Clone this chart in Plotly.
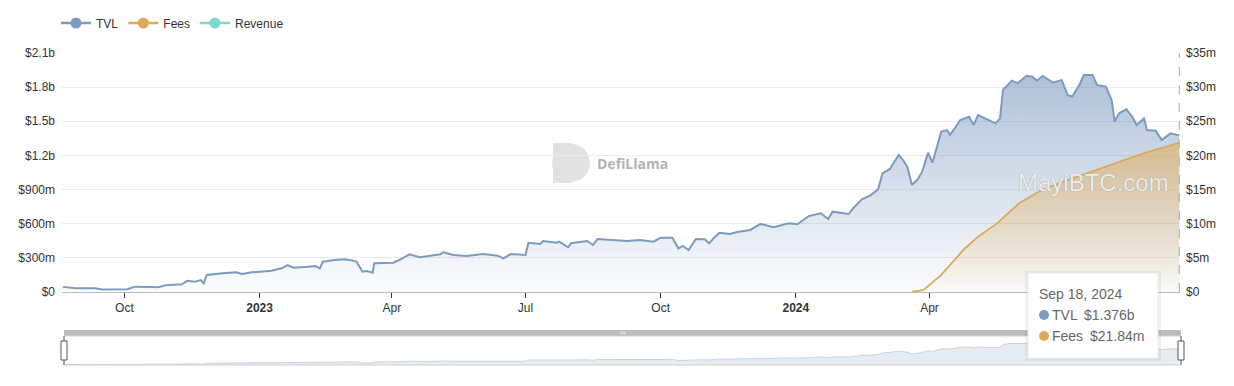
import plotly.graph_objects as go

# ---------------- data (values in millions of USD) ----------------
tvl_dates = [
    "2022-08-20", "2022-08-29", "2022-09-11", "2022-09-16", "2022-10-03", "2022-10-08",
    "2022-10-24", "2022-10-29", "2022-11-09", "2022-11-13", "2022-11-18", "2022-11-22",
    "2022-11-24", "2022-11-26", "2022-12-07", "2022-12-16", "2022-12-20", "2022-12-27",
    "2023-01-09", "2023-01-16", "2023-01-20", "2023-01-24", "2023-02-03", "2023-02-08",
    "2023-02-11", "2023-02-13", "2023-02-21", "2023-02-28", "2023-03-06", "2023-03-08",
    "2023-03-12", "2023-03-15", "2023-03-19", "2023-03-20", "2023-04-02", "2023-04-06",
    "2023-04-13", "2023-04-20", "2023-05-04", "2023-05-06", "2023-05-13", "2023-05-22",
    "2023-06-02", "2023-06-12", "2023-06-16", "2023-06-21", "2023-07-01", "2023-07-03",
    "2023-07-11", "2023-07-13", "2023-07-22", "2023-07-24", "2023-07-30", "2023-08-01",
    "2023-08-12", "2023-08-16", "2023-08-19", "2023-08-30", "2023-09-08", "2023-09-17",
    "2023-09-26", "2023-10-01", "2023-10-09", "2023-10-13", "2023-10-16", "2023-10-20",
    "2023-10-25", "2023-10-31", "2023-11-03", "2023-11-06", "2023-11-10", "2023-11-17",
    "2023-11-23", "2023-12-01", "2023-12-08", "2023-12-17", "2023-12-27", "2024-01-02",
    "2024-01-10", "2024-01-18", "2024-01-23", "2024-01-26", "2024-02-06", "2024-02-09",
    "2024-02-15", "2024-02-21", "2024-02-26", "2024-02-29", "2024-03-05", "2024-03-11",
    "2024-03-14", "2024-03-17", "2024-03-20", "2024-03-24", "2024-03-27", "2024-03-31",
    "2024-04-03", "2024-04-09", "2024-04-13", "2024-04-15", "2024-04-22", "2024-04-28",
    "2024-05-01", "2024-05-04", "2024-05-11", "2024-05-16", "2024-05-19", "2024-05-21",
    "2024-05-27", "2024-05-31", "2024-06-06", "2024-06-10", "2024-06-13", "2024-06-17",
    "2024-06-24", "2024-06-30", "2024-07-04", "2024-07-07", "2024-07-12", "2024-07-15",
    "2024-07-21", "2024-07-24", "2024-07-30", "2024-08-03", "2024-08-05", "2024-08-08",
    "2024-08-13", "2024-08-17", "2024-08-20", "2024-08-25", "2024-08-27", "2024-09-02",
    "2024-09-06", "2024-09-12", "2024-09-18",
]
tvl_values = [
    45, 32, 32, 22, 24, 47,
    41, 59, 68, 99, 90, 105,
    76, 149, 164, 173, 158, 173,
    187, 208, 237, 214, 222, 228,
    208, 266, 281, 287, 275, 266,
    178, 185, 170, 252, 257, 281,
    331, 305, 331, 349, 325, 316,
    334, 319, 296, 334, 325, 433,
    422, 448, 433, 442, 393, 428,
    448, 413, 466, 457, 448, 457,
    442, 477, 477, 384, 404, 369,
    466, 463, 428, 472, 521, 510,
    530, 545, 598, 569, 604, 595,
    668, 692, 641, 706, 685, 735,
    815, 852, 902, 1043, 1081, 1204,
    1160, 1096, 940, 990, 1057, 1224,
    1136, 1409, 1423, 1380, 1511, 1540,
    1467, 1555, 1511, 1482, 1526, 1775,
    1857, 1834, 1900, 1892, 1857, 1898,
    1840, 1863, 1731, 1716, 1819, 1907,
    1907, 1819, 1804, 1687, 1496, 1570,
    1605, 1540, 1467, 1526, 1423, 1417,
    1336, 1394, 1376,
]

fees_dates = [
    "2024-03-20", "2024-03-28", "2024-04-09", "2024-04-24", "2024-05-04", "2024-05-17",
    "2024-06-01", "2024-06-16", "2024-07-03", "2024-08-03", "2024-08-26", "2024-09-18",
]
fees_values = [0, 0.3, 2.5, 6.15, 8.1, 10.05, 13.0, 14.9, 16.3, 18.7, 20.4, 21.84]

series_names = ["TVL", "Fees", "Revenue"]
series_colors = ["#7d9bbf", "#dcaa5a", "#7fd9cb"]

left_tick_vals = [0, 300, 600, 900, 1200, 1500, 1800, 2100]
left_tick_text = ["$0", "$300m", "$600m", "$900m", "$1.2b", "$1.5b", "$1.8b", "$2.1b"]
right_tick_vals = [0, 5, 10, 15, 20, 25, 30, 35]
right_tick_text = ["$0", "$5m", "$10m", "$15m", "$20m", "$25m", "$30m", "$35m"]

# (the Jul 2024 label is hidden under the tooltip in the reference)
x_tick_vals = ["2022-10-01", "2023-01-01", "2023-04-01", "2023-07-01",
               "2023-10-01", "2024-01-01", "2024-04-01"]
x_tick_text = ["Oct", "<b>2023</b>", "Apr", "Jul", "Oct", "<b>2024</b>", "Apr"]
x_range = ["2022-08-19 12:00", "2024-09-18 12:00"]

tooltip_date = "Sep 18, 2024"

# ---------------- geometry helpers ----------------
W, H = 1234, 386
PL, PR = 62, 1180      # plot left / right (px)
PT, PB = 53, 365       # paper top / bottom (px)


def xp(px):
    return (px - PL) / (PR - PL)


def yp(py):
    return (PB - py) / (PB - PT)


FONT = "Liberation Sans, Arial, Helvetica, sans-serif"

fig = go.Figure()

# TVL area
fig.add_trace(go.Scatter(
    x=tvl_dates, y=tvl_values, mode="lines", name="TVL", showlegend=False,
    line=dict(color=series_colors[0], width=2),
    fill="tozeroy",
    fillgradient=dict(type="vertical", start=0, stop=max(tvl_values),
                      colorscale=[[0, "rgba(125,155,191,0.02)"], [1, "rgba(125,155,191,0.62)"]]),
    xaxis="x", yaxis="y", hoverinfo="skip",
))

# Fees area (right axis)
fig.add_trace(go.Scatter(
    x=fees_dates, y=fees_values, mode="lines", name="Fees", showlegend=False,
    line=dict(color=series_colors[1], width=1.8),
    fill="tozeroy",
    fillgradient=dict(type="vertical", start=0, stop=max(fees_values),
                      colorscale=[[0, "rgba(225,175,95,0.03)"], [1, "rgba(225,175,95,0.62)"]]),
    xaxis="x", yaxis="y2", hoverinfo="skip",
))

# legend-only entries
for name, col in zip(series_names, series_colors):
    fig.add_trace(go.Scatter(
        x=[None], y=[None], mode="lines+markers", name=name,
        line=dict(color=col, width=2.5),
        marker=dict(color=col, size=11),
        xaxis="x", yaxis="y",
    ))

# mini chart in the zoom slider
fig.add_trace(go.Scatter(
    x=tvl_dates, y=tvl_values, mode="lines", showlegend=False,
    line=dict(color="#c9d3df", width=1),
    fill="tozeroy", fillcolor="#e7ecf2",
    xaxis="x2", yaxis="y3", hoverinfo="skip",
))

shapes = []
# axis pointer (dashed vertical line at last date)
shapes.append(dict(type="line", xref="x", yref="y", x0=tvl_dates[-1], x1=tvl_dates[-1],
                   y0=0, y1=2100, line=dict(color="#aaaaaa", width=1, dash="dash"), layer="above"))

# slider decorations
shapes.append(dict(type="rect", xref="paper", yref="paper", x0=xp(64), x1=xp(1181),
                   y0=yp(336), y1=yp(330), fillcolor="#bcbcbc", line=dict(width=0)))
shapes.append(dict(type="rect", xref="paper", yref="paper", x0=xp(64), x1=xp(1181),
                   y0=yp(365), y1=yp(336), fillcolor="rgba(0,0,0,0)",
                   line=dict(color="#d0d0d0", width=1), layer="above"))
for hx in (64, 1181):
    shapes.append(dict(type="line", xref="paper", yref="paper", x0=xp(hx), x1=xp(hx),
                       y0=yp(365), y1=yp(336), line=dict(color="#666666", width=1), layer="above"))
    shapes.append(dict(type="rect", xref="paper", yref="paper", x0=xp(hx - 3), x1=xp(hx + 3),
                       y0=yp(360), y1=yp(341), fillcolor="white",
                       line=dict(color="#555555", width=1), layer="above"))
for mx in (621, 623, 625):
    shapes.append(dict(type="line", xref="paper", yref="paper", x0=xp(mx), x1=xp(mx),
                       y0=yp(334.5), y1=yp(331.5), line=dict(color="#eeeeee", width=1)))

# DefiLlama logo (D shape)
shapes.append(dict(type="rect", xref="paper", yref="paper", x0=xp(553), x1=xp(572),
                   y0=yp(183), y1=yp(143), fillcolor="#e2e2e2", line=dict(width=0), layer="below"))
shapes.append(dict(type="circle", xref="paper", yref="paper", x0=xp(552), x1=xp(590),
                   y0=yp(182), y1=yp(144), fillcolor="#e2e2e2", line=dict(width=0), layer="below"))

# tooltip box with soft shadow
shapes.append(dict(type="rect", xref="paper", yref="paper", x0=xp(1025), x1=xp(1161),
                   y0=yp(361), y1=yp(271), fillcolor="rgba(0,0,0,0.05)", line=dict(width=0),
                   layer="above"))
shapes.append(dict(type="rect", xref="paper", yref="paper", x0=xp(1028), x1=xp(1158),
                   y0=yp(358), y1=yp(273), fillcolor="white", line=dict(color="#ececec", width=1),
                   layer="above"))
shapes.append(dict(type="circle", xref="paper", yref="paper", x0=xp(1039), x1=xp(1049),
                   y0=yp(320), y1=yp(310), fillcolor=series_colors[0], line=dict(width=0), layer="above"))
shapes.append(dict(type="circle", xref="paper", yref="paper", x0=xp(1039), x1=xp(1049),
                   y0=yp(341), y1=yp(331), fillcolor=series_colors[1], line=dict(width=0), layer="above"))

annotations = []


def txt(px, py, text, size=14, color="#666666", anchor="left", bold=False, family=FONT, shadow=None):
    font = dict(family=family, size=size, color=color)
    if shadow:
        font["shadow"] = shadow
    annotations.append(dict(
        xref="paper", yref="paper", x=xp(px), y=yp(py), text=("<b>%s</b>" % text) if bold else text,
        showarrow=False, xanchor=anchor, yanchor="middle", font=font, borderpad=0,
    ))


txt(596, 163, "DefiLlama", size=14, color="#b3b3b3", bold=True, family="Open Sans, Arial, sans-serif")
txt(1093, 182, "MayiBTC.com", size=24, color="#ececec", anchor="center",
    shadow="0px 0px 1px #8a8a8a")

tvl_last = tvl_values[-1]
fees_last = fees_values[-1]
txt(1038, 294, tooltip_date, size=14, color="#666666")
txt(1051, 315, "TVL", size=14, color="#666666")
txt(1083, 315, "$%.3fb" % (tvl_last / 1000), size=14, color="#666666")
txt(1051, 336, "Fees", size=14, color="#666666")
txt(1089, 336, "$%.2fm" % fees_last, size=14, color="#666666")

fig.update_layout(
    width=W, height=H,
    margin=dict(l=PL, r=W - PR, t=PT, b=H - PB, pad=0, autoexpand=False),
    paper_bgcolor="white", plot_bgcolor="white",
    font=dict(family=FONT, size=12, color="#333333"),
    showlegend=True,
    legend=dict(orientation="h", xref="container", yref="container",
                x=56 / W, y=1 - 23 / H, xanchor="left", yanchor="middle",
                font=dict(family=FONT, size=12, color="#333333"), bgcolor="rgba(0,0,0,0)",
                itemclick=False, itemdoubleclick=False),
    xaxis=dict(domain=[0, 1], anchor="y", type="date", range=x_range,
               tickmode="array", tickvals=x_tick_vals, ticktext=x_tick_text,
               ticks="outside", ticklen=5, tickcolor="#333333", tickwidth=1,
               showline=True, linecolor="#bbbbbb", linewidth=1, showgrid=False,
               zeroline=False, tickfont=dict(size=12, color="#333333")),
    yaxis=dict(domain=[yp(292), 1], range=[0, 2100], tickmode="array",
               tickvals=left_tick_vals, ticktext=left_tick_text,
               showgrid=True, gridcolor="#ebebeb", gridwidth=1, zeroline=False,
               showline=False, ticks="", ticklabelstandoff=6,
               tickfont=dict(size=12, color="#333333")),
    yaxis2=dict(overlaying="y", side="right", anchor="x", range=[0, 35], tickmode="array",
                tickvals=right_tick_vals, ticktext=right_tick_text,
                showgrid=False, zeroline=False, showline=False, ticks="", ticklabelstandoff=5,
                tickfont=dict(size=12, color="#333333")),
    xaxis2=dict(domain=[0, 1], anchor="y3", type="date", range=x_range, visible=False),
    yaxis3=dict(domain=[0, yp(336)], range=[0, 2500], visible=False),
    shapes=shapes,
    annotations=annotations,
    hovermode=False,
)

fig.write_html("out.html", config={"displayModeBar": False})
